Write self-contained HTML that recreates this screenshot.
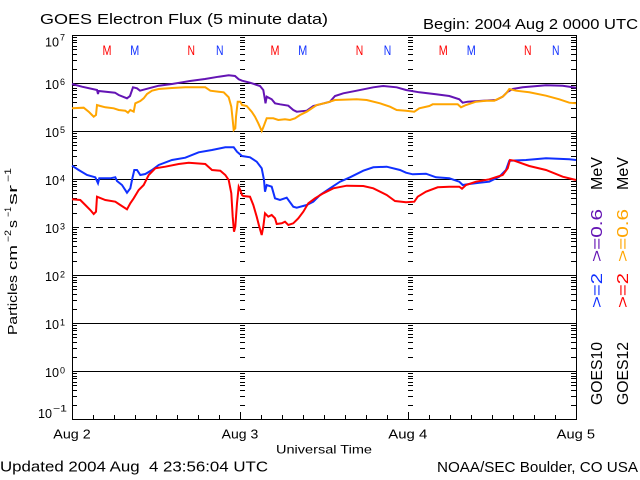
<!DOCTYPE html>
<html>
<head>
<meta charset="utf-8">
<style>
html,body{margin:0;padding:0;background:#fff;}
svg{display:block;}
text{font-family:"Liberation Sans",sans-serif;fill:#000;}
</style>
</head>
<body>
<svg width="640" height="480" viewBox="0 0 640 480" xmlns="http://www.w3.org/2000/svg">
<defs>
<path id="dec" d="M0 -13.5h5M0 -22.5h5M0 -28.5h5M0 -33.5h5M0 -36.5h5M0 -40.5h5M0 -42.5h5M0 -45.5h5" stroke="#000" stroke-width="1" fill="none"/>
</defs>
<rect width="640" height="480" fill="#fff"/>

<!-- Title -->
<text x="40" y="24" font-size="15" textLength="288" lengthAdjust="spacingAndGlyphs">GOES Electron Flux (5 minute data)</text>
<text x="423" y="29" font-size="15" textLength="215" lengthAdjust="spacingAndGlyphs">Begin: 2004 Aug 2 0000 UTC</text>

<!-- Grid lines -->
<g stroke="#000" stroke-width="1" fill="none" shape-rendering="crispEdges">
<line x1="72" y1="83.5" x2="576" y2="83.5"/>
<line x1="72" y1="131.5" x2="576" y2="131.5"/>
<line x1="72" y1="179.5" x2="576" y2="179.5"/>
<line x1="72" y1="227.5" x2="576" y2="227.5" stroke-dasharray="7,5"/>
<line x1="72" y1="275.5" x2="576" y2="275.5"/>
<line x1="72" y1="323.5" x2="576" y2="323.5"/>
<line x1="72" y1="371.5" x2="576" y2="371.5"/>
<rect x="72.5" y="35.5" width="504" height="384"/>
</g>

<!-- Minor log ticks -->
<g shape-rendering="crispEdges">
<use href="#dec" x="72" y="83"/><use href="#dec" x="72" y="131"/><use href="#dec" x="72" y="179"/><use href="#dec" x="72" y="227"/>
<use href="#dec" x="72" y="275"/><use href="#dec" x="72" y="323"/><use href="#dec" x="72" y="371"/><use href="#dec" x="72" y="419"/>
<use href="#dec" x="571" y="83"/><use href="#dec" x="571" y="131"/><use href="#dec" x="571" y="179"/><use href="#dec" x="571" y="227"/>
<use href="#dec" x="571" y="275"/><use href="#dec" x="571" y="323"/><use href="#dec" x="571" y="371"/><use href="#dec" x="571" y="419"/>
<use href="#dec" x="240" y="83"/><use href="#dec" x="240" y="131"/><use href="#dec" x="240" y="179"/><use href="#dec" x="240" y="227"/>
<use href="#dec" x="240" y="275"/><use href="#dec" x="240" y="323"/><use href="#dec" x="240" y="371"/><use href="#dec" x="240" y="419"/>
<use href="#dec" x="408" y="83"/><use href="#dec" x="408" y="131"/><use href="#dec" x="408" y="179"/><use href="#dec" x="408" y="227"/>
<use href="#dec" x="408" y="275"/><use href="#dec" x="408" y="323"/><use href="#dec" x="408" y="371"/><use href="#dec" x="408" y="419"/>
</g>

<!-- Bottom time ticks -->
<path stroke="#000" stroke-width="1" fill="none" shape-rendering="crispEdges" d="
M93.5 419v-4M114.5 419v-4M135.5 419v-4M156.5 419v-4M177.5 419v-4M198.5 419v-4M219.5 419v-4
M240.5 419v-7
M261.5 419v-4M282.5 419v-4M303.5 419v-4M324.5 419v-4M345.5 419v-4M366.5 419v-4M387.5 419v-4
M408.5 419v-7
M429.5 419v-4M450.5 419v-4M471.5 419v-4M492.5 419v-4M513.5 419v-4M534.5 419v-4M555.5 419v-4"/>

<!-- Y tick labels -->
<g font-size="13">
<text x="45" y="46.5" textLength="14" lengthAdjust="spacingAndGlyphs">10</text>
<text x="45" y="89" textLength="14" lengthAdjust="spacingAndGlyphs">10</text>
<text x="45" y="137" textLength="14" lengthAdjust="spacingAndGlyphs">10</text>
<text x="45" y="185" textLength="14" lengthAdjust="spacingAndGlyphs">10</text>
<text x="45" y="233" textLength="14" lengthAdjust="spacingAndGlyphs">10</text>
<text x="45" y="281" textLength="14" lengthAdjust="spacingAndGlyphs">10</text>
<text x="45" y="329" textLength="14" lengthAdjust="spacingAndGlyphs">10</text>
<text x="45" y="377" textLength="14" lengthAdjust="spacingAndGlyphs">10</text>
<text x="38" y="418" textLength="14" lengthAdjust="spacingAndGlyphs">10</text>
</g>
<g font-size="9">
<text x="60" y="40.5">7</text>
<text x="60" y="85">6</text>
<text x="60" y="133">5</text>
<text x="60" y="181.5">4</text>
<text x="60" y="229.5">3</text>
<text x="60" y="277.5">2</text>
<text x="60" y="325.5">1</text>
<text x="60" y="373.5">0</text>
<text x="53" y="411.5" textLength="14" lengthAdjust="spacingAndGlyphs">−1</text>
</g>

<!-- Y axis title -->
<g transform="translate(17,335) rotate(-90)">
<text x="0" y="0" font-size="13" textLength="60" lengthAdjust="spacingAndGlyphs">Particles</text>
<text x="65" y="0" font-size="13" textLength="25" lengthAdjust="spacingAndGlyphs">cm</text>
<text x="93" y="-6" font-size="9" textLength="12" lengthAdjust="spacingAndGlyphs">−2</text>
<text x="107" y="0" font-size="13" textLength="8" lengthAdjust="spacingAndGlyphs">s</text>
<text x="118" y="-6" font-size="9" textLength="10" lengthAdjust="spacingAndGlyphs">−1</text>
<text x="130" y="0" font-size="13" textLength="20" lengthAdjust="spacingAndGlyphs">sr</text>
<text x="153" y="-6" font-size="9" textLength="14" lengthAdjust="spacingAndGlyphs">−1</text>
</g>

<!-- X axis labels -->
<g font-size="13">
<text x="53.3" y="438.3" textLength="37.4" lengthAdjust="spacingAndGlyphs">Aug 2</text>
<text x="221.7" y="438.3" textLength="36.6" lengthAdjust="spacingAndGlyphs">Aug 3</text>
<text x="388.3" y="438.3" textLength="39" lengthAdjust="spacingAndGlyphs">Aug 4</text>
<text x="556.7" y="438.3" textLength="38.3" lengthAdjust="spacingAndGlyphs">Aug 5</text>
</g>
<text x="276" y="453.3" font-size="12" textLength="96" lengthAdjust="spacingAndGlyphs">Universal Time</text>

<text x="0" y="471.5" font-size="15" textLength="268" lengthAdjust="spacingAndGlyphs" style="white-space:pre">Updated 2004 Aug  4 23:56:04 UTC</text>
<text x="437" y="472" font-size="15" textLength="201" lengthAdjust="spacingAndGlyphs">NOAA/SEC Boulder, CO USA</text>

<!-- M / N markers -->
<g font-size="14">
<text x="102.5" y="55" fill="#ff0000" style="fill:#ff0000" textLength="9" lengthAdjust="spacingAndGlyphs">M</text>
<text x="130.2" y="55" style="fill:#1030ff" textLength="9" lengthAdjust="spacingAndGlyphs">M</text>
<text x="187.5" y="55" style="fill:#ff0000" textLength="7.5" lengthAdjust="spacingAndGlyphs">N</text>
<text x="216" y="55" style="fill:#1030ff" textLength="7.5" lengthAdjust="spacingAndGlyphs">N</text>
<text x="270.5" y="55" style="fill:#ff0000" textLength="9" lengthAdjust="spacingAndGlyphs">M</text>
<text x="298.3" y="55" style="fill:#1030ff" textLength="9" lengthAdjust="spacingAndGlyphs">M</text>
<text x="355.7" y="55" style="fill:#ff0000" textLength="7.5" lengthAdjust="spacingAndGlyphs">N</text>
<text x="383.8" y="55" style="fill:#1030ff" textLength="7.5" lengthAdjust="spacingAndGlyphs">N</text>
<text x="438.8" y="55" style="fill:#ff0000" textLength="9" lengthAdjust="spacingAndGlyphs">M</text>
<text x="466.7" y="55" style="fill:#1030ff" textLength="9" lengthAdjust="spacingAndGlyphs">M</text>
<text x="524" y="55" style="fill:#ff0000" textLength="7.5" lengthAdjust="spacingAndGlyphs">N</text>
<text x="552" y="55" style="fill:#1030ff" textLength="7.5" lengthAdjust="spacingAndGlyphs">N</text>
</g>

<!-- Right side labels -->
<g transform="translate(602,405) rotate(-90)" font-size="16">
<text x="0" y="0" textLength="63" lengthAdjust="spacingAndGlyphs">GOES10</text>
<text x="97" y="0" style="fill:#1030ff" textLength="35" lengthAdjust="spacingAndGlyphs">&gt;=2</text>
<text x="143" y="0" style="fill:#6414b4" textLength="53" lengthAdjust="spacingAndGlyphs">&gt;=0.6</text>
<text x="215" y="0" textLength="33" lengthAdjust="spacingAndGlyphs">MeV</text>
</g>
<g transform="translate(628,405) rotate(-90)" font-size="16">
<text x="0" y="0" textLength="63" lengthAdjust="spacingAndGlyphs">GOES12</text>
<text x="97" y="0" style="fill:#ff0000" textLength="35" lengthAdjust="spacingAndGlyphs">&gt;=2</text>
<text x="143" y="0" style="fill:#ffa500" textLength="53" lengthAdjust="spacingAndGlyphs">&gt;=0.6</text>
<text x="215" y="0" textLength="33" lengthAdjust="spacingAndGlyphs">MeV</text>
</g>

<!-- Data series -->
<g fill="none" stroke-width="2" stroke-linejoin="miter">
<polyline stroke="#6414b4" points="72,84 82,86.7 97,90 98,94 98.7,91 115,92.7 118.7,95 127,98.3 130,96 133,87.3 137,88.3 140,90.7 145,89.3 158.7,85.7 172,84 182,82.3 190,81 205,79 218.7,76.7 228.7,75.3 235,76 238.7,79.3 242,80.7 250,82.7 260,86 263.3,90 265,100 265.5,103.3 266.7,96.7 271.7,99.3 275,103.3 280,104.3 288.3,105.7 293.3,110 296.7,111.7 306.7,110.7 313.3,106 320,104.3 330,101.7 335,96 343.3,93.3 356.7,90.7 373.3,87.3 383.3,86 396.7,87.3 406,90 419.3,92.3 436,94.3 449.3,96 459.3,99.3 462.7,102.7 467.7,101.7 482.7,100.7 496,100 502.7,96.7 507.7,91.7 512.7,89 522.7,87.3 546,85.3 562.7,85.7 576,87.7"/>
<polyline stroke="#1030ff" points="72,165.7 78.7,170 87,175 95.3,177.3 98,183.3 99.3,178.3 110.3,178.3 115.3,177.3 117,181 122,185 127,192.7 130.3,188.3 132,180 134.3,170 137,170 140.3,175 145.3,174 152,170 158.7,165 172,160 185.3,157.7 198.7,152.3 212,150 225.3,147.3 233.7,147.3 237,151.7 242,156 250,157.3 256.7,161.7 261.7,168.3 264,180 265,191.7 266.7,185 271.7,186.7 275,198.3 280,200 286.7,197.7 293.3,206.7 296.7,207.7 306.7,205 313.3,201.7 320,195 330,188.3 340,181.7 350,177.3 363.3,170.7 373.3,167.3 386.7,166.7 400,170 406,172.7 412.7,174.3 426,173.7 436,177.3 449.3,178.3 459.3,181.7 462.7,185 469.3,184 479.3,182.7 489.3,181.7 499.3,176.7 506,170 509.3,160.7 526,160 546,158.3 569.3,159.3 576,160"/>
<polyline stroke="#ffa500" points="72,108.3 83.7,107.7 88.7,111.7 92,115 93.7,116.7 96,115 97,105 100.3,106 105.3,107.3 113.7,108.3 118.7,110 125.3,110.7 128,112.7 130.3,110 133.7,111.7 135.3,103.3 140.3,101 143.7,98.3 147,94 152,90.7 158.7,89 172,88 185.3,87.3 205.3,87.3 210.3,90.7 218.7,91.7 223.7,92.3 228.7,97.3 231.3,106.7 232.7,120 233.7,130 235.3,128.3 236,116.7 237.7,101.7 240.3,101.7 242,105 246.7,106 251.7,111.7 255,116.7 258.3,123.3 261.7,131 263.3,127.3 266.7,118.3 273.3,118.3 278.3,120 285,119.3 290,120 295,118.3 300,115 306.7,111.7 316.7,105 326.7,102.7 335,100 356.7,99.3 366.7,100 380,103.3 390,106.7 396.7,110 406,110.7 414.3,111.7 419.3,108.3 429.3,106 432.7,104.3 457.7,104.3 461,107.3 466,105 476,101.7 486,100.7 494.3,100.7 502.7,96.7 506.7,92.7 509.3,89 516,90.7 529.3,92.3 546,95.7 559.3,99.3 569.3,102.7 576,103.3"/>
<polyline stroke="#ff0000" points="72,199.3 80.3,200 85.3,205 90.3,210 93.7,214 96,211.7 97,196.7 105.3,200 115.3,201.7 120.3,205 127,209.3 130.3,203.3 133.7,198.3 138.7,190 143.7,185 148.7,175 155.3,168.3 165.3,166.7 178.7,164 188.7,162.7 205.3,164 212,170 220.3,170.7 225.3,175 228.7,180 231.3,193.3 232.7,216.7 234,231.7 235.3,226.7 237,203.3 238.7,186.7 240.3,190 242,195 243.3,196 250,196.7 253.3,205 256.7,216.7 259.3,226.7 261.7,235 263.3,226.7 265,213.3 268.3,216.7 271.7,215 275,218.3 276.7,224 281.7,223.3 285,221.7 288.3,225 293.3,223.3 298.3,218.3 303.3,211.7 308.3,203.3 315,198.3 323.3,193.3 333.3,188.3 346.7,185.7 363.3,186 373.3,188.3 386.7,195 395,201 406,202.3 414.3,201.7 417.7,196.7 426,191.7 437.7,187.3 449.3,186.7 459.3,186.7 462,188.7 466,185 476,181.7 489.3,179.3 502.7,175 507.7,168.3 510,160 514.3,160.7 529.3,166 546,170 562.7,176.7 576,180"/>
</g>
</svg>
</body>
</html>
